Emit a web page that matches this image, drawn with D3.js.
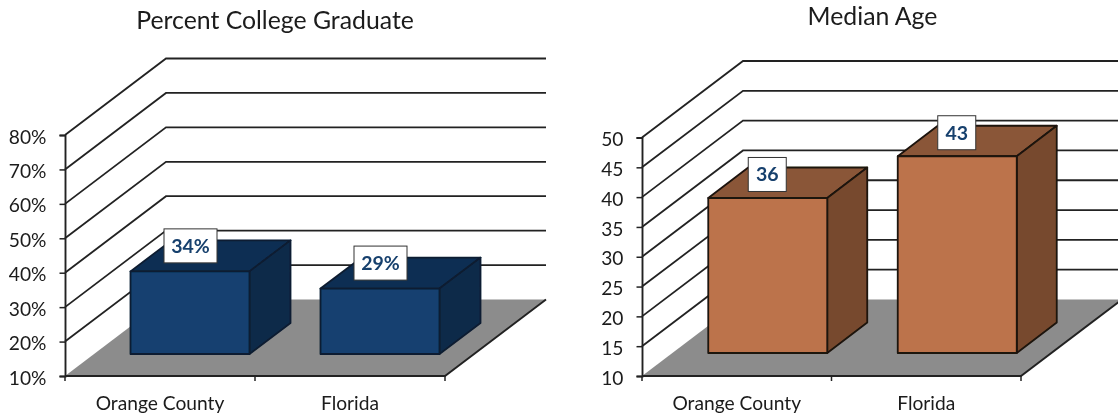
<!DOCTYPE html>
<html><head><meta charset="utf-8">
<script src="https://cdn.jsdelivr.net/npm/d3@7"></script>
<style>html,body{margin:0;padding:0;background:#fff}svg{display:block}text{font-family:Lato,"Open Sans",sans-serif}</style>
</head><body><svg id="c" width="1118" height="415"></svg>
<script>
const categories = ["Orange County", "Florida"];
const collegeValues = [34, 29];
const collegeLabels = ["34%", "29%"];
const collegeTicks = [10, 20, 30, 40, 50, 60, 70, 80];
const ageValues = [36, 43];
const ageLabels = ["36", "43"];
const ageTicks = [10, 15, 20, 25, 30, 35, 40, 45, 50];

const svg = d3.select("#c");
const defs = svg.append("defs");
defs.append("filter").attr("id", "soft").attr("x", "-5%").attr("y", "-5%").attr("width", "110%").attr("height", "110%")
  .append("feGaussianBlur").attr("stdDeviation", 0.45);
const root = svg.append("g").attr("filter", "url(#soft)");

function chart(o) {
  const g = root.append("g");
  const x = d3.scaleBand().domain(categories).range([o.x0, o.x1]);
  const y = d3.scaleLinear().domain(o.domain).range([o.yBottom, o.yTop]);
  const floorY = y(o.domain[0]);
  const line = d3.line();
  const DX = o.depthX, DY = o.depthY;

  // back wall + side wall gridlines
  o.ticks.slice(1).forEach(t => {
    g.append("path").attr("fill", "none").attr("stroke", "#222").attr("stroke-width", 1.8)
      .attr("d", line([[o.x0, y(t)], [o.x0 + DX, y(t) - DY], [o.rightEdge, y(t) - DY]]));
  });

  // floor
  g.append("path").attr("fill", "#8c8c8c")
    .attr("d", line([[o.x0, floorY], [o.x1, floorY], [o.x1 + DX, floorY - DY], [o.x0 + DX, floorY - DY]]) + "Z");
  g.append("path").attr("fill", "none").attr("stroke", "#222").attr("stroke-width", 1.9)
    .attr("d", line([[o.x0, floorY], [o.x1, floorY], [o.x1 + DX, floorY - DY]]));

  // y axis
  const ya = g.append("g").attr("transform", `translate(${o.x0},0)`)
    .call(d3.axisLeft(y).tickValues(o.ticks).tickSize(5.5).tickPadding(13).tickFormat(o.fmt));
  ya.select(".domain").attr("stroke", "#222").attr("stroke-width", 1.9);
  ya.selectAll(".tick line").attr("stroke", "#222").attr("stroke-width", 1.5);
  ya.selectAll("text").attr("font-size", 19.2).attr("fill", "#1a1a1a").attr("dy", "0.42em").style("font-family", "Lato");

  // x axis
  const xa = g.append("g").attr("transform", `translate(0,${floorY})`)
    .call(d3.axisBottom(x).tickSize(0).tickPadding(20));
  xa.select(".domain").remove();
  xa.selectAll("text").attr("font-size", 19.2).attr("fill", "#1a1a1a").style("font-family", "Lato");
  [o.x0, x(categories[1]), o.x1].forEach(px => {
    g.append("line").attr("x1", px).attr("x2", px).attr("y1", floorY).attr("y2", floorY + 5)
      .attr("stroke", "#222").attr("stroke-width", 1.5);
  });

  // bars
  const bw = o.barWidth, offX = o.barOffX, offY = o.barOffY, bdx = o.barDepthX, bdy = o.barDepthY;
  categories.forEach((c, i) => {
    const v = o.values[i];
    const l = x(c) + (x.bandwidth() - bw) / 2 + offX;
    const r = l + bw;
    const b = floorY - offY;
    const t = y(v) - offY;
    const stroke = { stroke: o.edge, "stroke-width": 1.8, "stroke-linejoin": "round" };
    const face = (pts, fill) => {
      const p = g.append("path").attr("d", line(pts) + "Z").attr("fill", fill);
      Object.entries(stroke).forEach(([k, val]) => p.attr(k, val));
    };
    face([[l, t], [r, t], [r + bdx, t - bdy], [l + bdx, t - bdy]], o.topFill);
    face([[r, t], [r + bdx, t - bdy], [r + bdx, b - bdy], [r, b]], o.sideFill);
    face([[l, t], [r, t], [r, b], [l, b]], o.frontFill);

    const cx = l + bw / 2 + o.labelDX, cy = t - o.labelDY;
    g.append("rect").attr("x", cx - o.labelW / 2).attr("y", cy - 17).attr("width", o.labelW).attr("height", 34)
      .attr("fill", "#fff").attr("stroke", "#333").attr("stroke-width", 1);
    g.append("text").attr("x", cx).attr("y", cy).attr("dy", "0.36em").attr("text-anchor", "middle")
      .attr("font-size", 19.5).attr("font-weight", 700).attr("fill", "#17406d").text(o.labels[i]);
  });

  g.append("text").attr("x", o.titleX).attr("y", o.titleY).attr("text-anchor", "middle")
    .attr("font-size", 24.8).attr("fill", "#1a1a1a").text(o.title);
}

chart({
  title: "Percent College Graduate", titleX: 275, titleY: 29,
  values: collegeValues, labels: collegeLabels, ticks: collegeTicks, domain: [10, 80],
  fmt: d => d + "%",
  x0: 65, x1: 445, yBottom: 376, yTop: 135, rightEdge: 546, depthX: 101, depthY: 76.5,
  barWidth: 119, barOffX: 30, barOffY: 22, barDepthX: 41, barDepthY: 31,
  frontFill: "#14406f", topFill: "#0f2f52", sideFill: "#0e2b4a", edge: "#0b1c30",
  labelW: 53, labelDX: 0.5, labelDY: 25.5
});
chart({
  title: "Median Age", titleX: 872.5, titleY: 25,
  values: ageValues, labels: ageLabels, ticks: ageTicks, domain: [10, 50],
  fmt: d => d,
  x0: 642, x1: 1021, yBottom: 376, yTop: 137.5, rightEdge: 1118, depthX: 101, depthY: 76.5,
  barWidth: 119, barOffX: 31, barOffY: 23, barDepthX: 40, barDepthY: 30.5,
  frontFill: "#bc734b", topFill: "#8a5739", sideFill: "#774a2e", edge: "#1c120c",
  labelW: 38, labelDX: -0.5, labelDY: 23.5
});
</script></body></html>
